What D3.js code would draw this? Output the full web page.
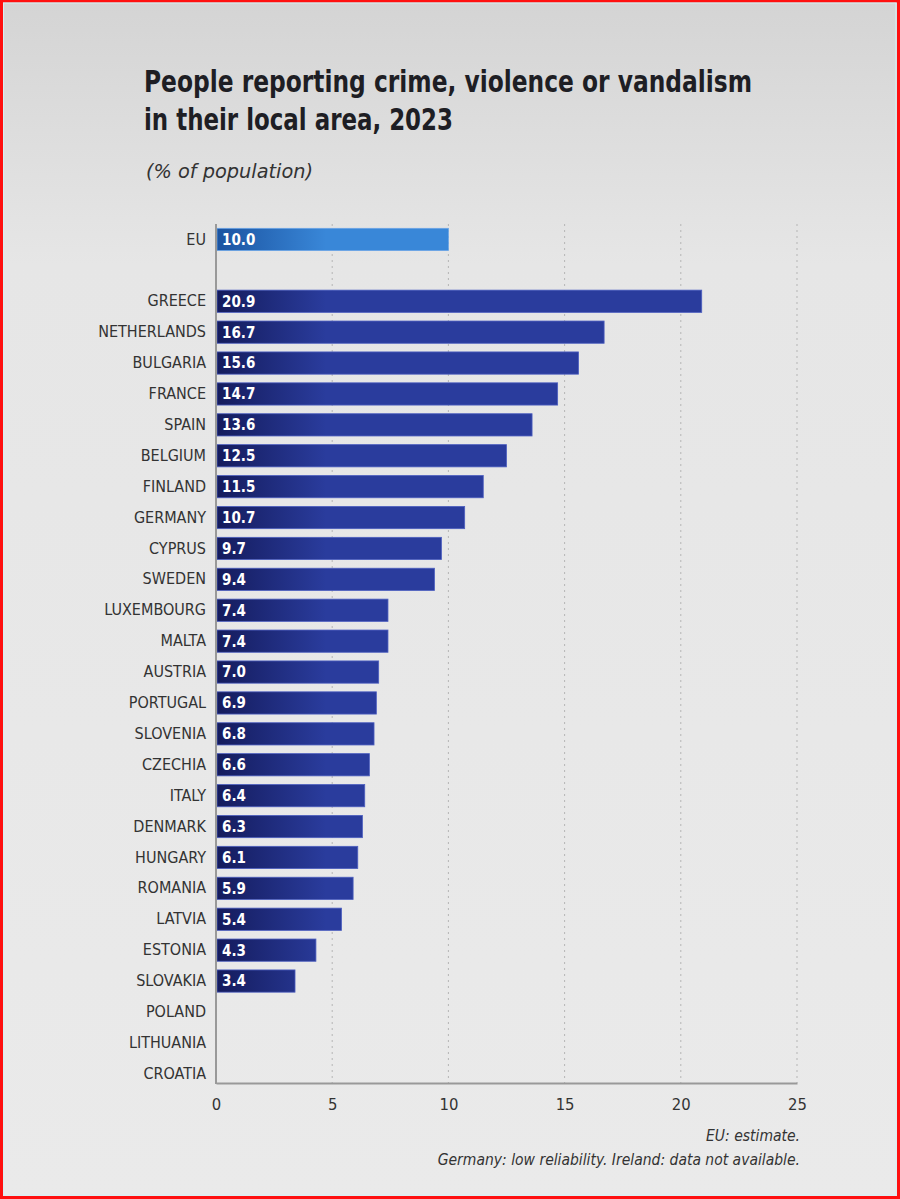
<!DOCTYPE html>
<html><head><meta charset="utf-8">
<script src="https://cdn.jsdelivr.net/npm/d3@7"></script>
<style>
html,body{margin:0;padding:0;background:#e9e9e9;}
svg{display:block;}
text{font-family:"Liberation Sans Narrow","DejaVu Sans Condensed","Roboto Condensed",sans-serif;}
</style></head>
<body>
<svg id="chart" width="900" height="1199"></svg>
<script>
const categories = ["EU","","GREECE","NETHERLANDS","BULGARIA","FRANCE","SPAIN","BELGIUM","FINLAND","GERMANY","CYPRUS","SWEDEN","LUXEMBOURG","MALTA","AUSTRIA","PORTUGAL","SLOVENIA","CZECHIA","ITALY","DENMARK","HUNGARY","ROMANIA","LATVIA","ESTONIA","SLOVAKIA","POLAND","LITHUANIA","CROATIA"];
const values = [10.0,null,20.9,16.7,15.6,14.7,13.6,12.5,11.5,10.7,9.7,9.4,7.4,7.4,7.0,6.9,6.8,6.6,6.4,6.3,6.1,5.9,5.4,4.3,3.4,null,null,null];
const xTicks = [0,5,10,15,20,25];
const titleLines = ["People reporting crime, violence or vandalism","in their local area, 2023"];
const subtitle = "(% of population)";
const notes = ["EU: estimate.","Germany: low reliability. Ireland: data not available."];

const svg = d3.select("#chart");
const W = 900, H = 1199;
const defs = svg.append("defs");

const bg = defs.append("linearGradient").attr("id","bg").attr("x1",0).attr("y1",0).attr("x2",0).attr("y2",1);
bg.append("stop").attr("offset","0%").attr("stop-color","#d4d4d4");
bg.append("stop").attr("offset","22%").attr("stop-color","#e6e6e6");
bg.append("stop").attr("offset","100%").attr("stop-color","#eaeaea");
svg.append("rect").attr("width",W).attr("height",H).attr("fill","url(#bg)");

const x = d3.scaleLinear().domain([0,25]).range([216,797]);
const y = d3.scaleBand().domain(categories).range([224,1089.2]).paddingInner(0.28).paddingOuter(0.14);
const axisY = 1083;

function grad(id, c0, c1){
  const g = defs.append("linearGradient").attr("id",id).attr("gradientUnits","userSpaceOnUse")
    .attr("x1",x(0)).attr("x2",x(0)+110).attr("y1",0).attr("y2",0);
  g.append("stop").attr("offset","0%").attr("stop-color",c0);
  g.append("stop").attr("offset","100%").attr("stop-color",c1);
}
grad("gMain","#141b5c","#2a3c9d");
grad("gEU","#1b53a0","#3987d8");

// gridlines
svg.append("g").selectAll("line").data(xTicks.slice(1)).join("line")
  .attr("x1",d=>x(d)).attr("x2",d=>x(d)).attr("y1",224).attr("y2",axisY)
  .attr("stroke","#b5b5b5").attr("stroke-width",1).attr("stroke-dasharray","2,4");

// title (condensed to match the reference's narrow typeface)
const titleWidths = [608, 309];
titleLines.forEach((t,i)=>svg.append("text").attr("x",144).attr("y",92+i*38)
  .attr("font-size",30).attr("font-weight","bold").attr("fill","#1e1e24")
  .attr("textLength",titleWidths[i]).attr("lengthAdjust","spacingAndGlyphs").text(t));
svg.append("text").attr("x",146).attr("y",178).attr("font-size",20).attr("font-style","italic").attr("fill","#333")
  .attr("textLength",167).attr("lengthAdjust","spacingAndGlyphs").text(subtitle);

// bars
const data = categories.map((c,i)=>({c, v: values[i]}));
svg.append("g").selectAll("rect").data(data.filter(d=>d.v!=null)).join("rect")
  .attr("x",x(0)+1).attr("y",d=>y(d.c)).attr("height",y.bandwidth())
  .attr("width",d=>x(d.v)-x(0)-1)
  .attr("fill",d=>d.c==="EU"?"url(#gEU)":"url(#gMain)")
  .attr("stroke",d=>d.c==="EU"?"#6aa5e6":"#4d5fc0").attr("stroke-width",0.8);

// value labels
svg.append("g").selectAll("text").data(data.filter(d=>d.v!=null)).join("text")
  .attr("x",x(0)+6).attr("y",d=>y(d.c)+y.bandwidth()/2).attr("dy","0.36em")
  .attr("font-size",15).attr("font-weight","bold").attr("fill","#fff")
  .text(d=>d3.format(".1f")(d.v));

// y axis labels
const yAxis = d3.axisLeft(y).tickSize(0).tickPadding(10);
const gy = svg.append("g").attr("transform",`translate(${x(0)},0)`).call(yAxis);
gy.select(".domain").remove();
gy.selectAll("text").attr("font-size",16).attr("fill","#333").style("font-family",null);

// axis lines
svg.append("line").attr("x1",x(0)).attr("x2",x(0)).attr("y1",224).attr("y2",axisY+1)
  .attr("stroke","#999").attr("stroke-width",2);
const xAxis = d3.axisBottom(x).tickValues(xTicks).tickSize(0).tickPadding(15).tickFormat(d3.format("d"));
const gx = svg.append("g").attr("transform",`translate(0,${axisY})`).call(xAxis);
gx.select(".domain").attr("stroke","#999").attr("stroke-width",2);
gx.selectAll("text").attr("font-size",16.5).attr("fill","#333").style("font-family",null);

// notes
notes.forEach((n,i)=>svg.append("text").attr("x",800).attr("y",1141+i*24).attr("text-anchor","end")
  .attr("font-size",15.5).attr("font-style","italic").attr("fill","#333").text(n));

// frame
svg.append("rect").attr("x",1.5).attr("y",1).attr("width",W-3).attr("height",H-2.5)
  .attr("fill","none").attr("stroke","#ff1010").attr("stroke-width",3);
svg.append("rect").attr("x",3.5).attr("y",3).attr("width",W-7.5).attr("height",H-7)
  .attr("fill","none").attr("stroke","#d4f0f4").attr("stroke-width",1);
</script>
</body></html>
